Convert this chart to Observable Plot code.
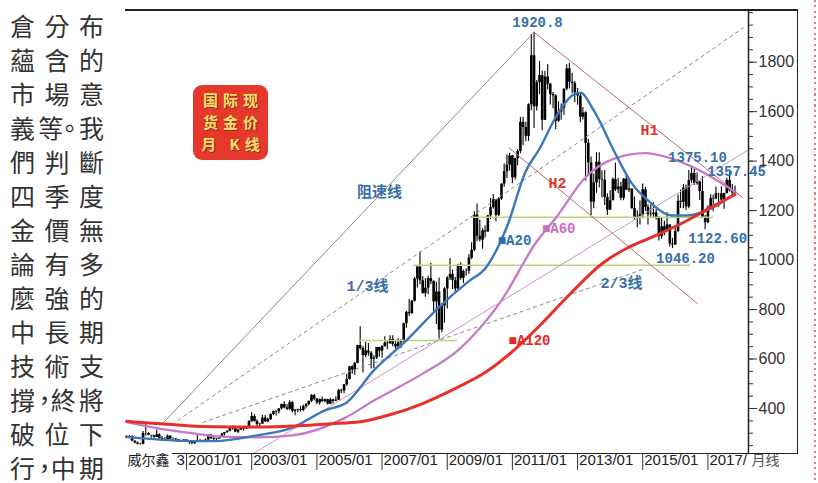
<!DOCTYPE html>
<html><head><meta charset="utf-8">
<script src="https://cdn.jsdelivr.net/npm/d3@7"></script>
<script src="https://cdn.jsdelivr.net/npm/@observablehq/plot@0.6"></script>
<style>
html,body{margin:0;padding:0;background:#fff;overflow:hidden}
#wrap{position:relative;width:818px;height:483px;overflow:hidden;background:#fff}
#chart{position:absolute;left:0;top:0}
#col{position:absolute;left:10px;top:0;width:94px;font-family:"Noto Sans CJK TC";font-size:25px;line-height:25px;color:#333}
.row{position:absolute;left:0;width:94px;display:flex;justify-content:space-between}
.row span.c{display:block;flex:none;min-width:25px;text-align:center;white-space:nowrap}
.row span.p{font-feature-settings:"halt" 1;}
.ln{position:absolute;background:#222}
#badge{position:absolute;left:193px;top:85px;width:75px;height:75px;border-radius:9px;background:#e4382c;color:#f7e36c;
 font-family:"Noto Sans CJK SC";font-weight:bold;font-size:15px;line-height:22px;letter-spacing:5px;padding-left:5px;text-align:center;box-sizing:border-box;padding-top:4px;text-shadow:1px 1px 0 #a8241c}
#dots{position:absolute;left:814px;top:0;width:2px;height:483px;background:repeating-linear-gradient(to bottom,#e87a7a 0 2px,transparent 2px 5.5px)}
</style></head>
<body>
<div id="wrap">
  <div id="col"></div>
  <div id="chart"></div>
  <div class="ln" style="left:125px;top:9px;width:673px;height:1.5px"></div>
  <div class="ln" style="left:796.5px;top:9px;width:1.5px;height:445px"></div>
  <div class="ln" style="left:172px;top:452.5px;width:626px;height:1.5px"></div>
  <div id="badge">国际现<br>货金价<br>月 K线</div>
  <div id="dots"></div>
</div>
<script>
// ---------- text column ----------
const textRows = ["倉分布","蘊含的","市場意","義等。我","們判斷","四季度","金價無","論有多","麼強的","中長期","技術支","撐，終將","破位下","行，中期"];
const col = document.getElementById("col");
textRows.forEach((r, k) => {
  const div = document.createElement("div");
  div.className = "row";
  div.style.top = (12.5 + 34 * k) + "px";
  const chars = [...r];
  const cells = chars.length === 4 ? [chars[0], chars[1] + chars[2], chars[3]] : chars;
  for (const cell of cells) {
    const s = document.createElement("span");
    s.className = "c";
    for (const ch of cell) {
      if ("，。".includes(ch)) {
        const p = document.createElement("span");
        p.className = "p"; p.textContent = ch; s.appendChild(p);
      } else s.appendChild(document.createTextNode(ch));
    }
    div.appendChild(s);
  }
  col.appendChild(div);
});

// ---------- monthly gold data (1999/03 .. 2017/11) ----------
const startYear = 1999, startMonth = 3, firstOpen = 287.3;
const closes = [
 279.5,286.6,268.3,261.0,255.6,254.8,299.0,299.1,291.4,290.3,
 283.3,293.7,278.4,274.8,272.3,288.2,276.8,277.0,273.7,264.5,269.1,272.7,
 265.6,266.7,257.7,263.2,267.5,270.6,265.8,273.0,293.1,278.8,275.5,276.5,
 282.3,296.9,302.6,308.2,326.6,318.5,304.7,312.8,323.7,316.9,319.1,347.2,
 367.5,347.5,334.9,336.8,361.4,346.0,354.8,375.6,388.0,386.3,398.4,416.3,
 402.5,396.6,423.7,388.5,393.3,395.8,391.4,407.3,415.7,428.6,452.5,438.0,
 422.5,435.5,428.0,435.7,417.3,435.0,429.0,433.3,473.3,470.8,495.7,517.0,
 568.8,556.0,582.0,654.5,642.5,613.5,632.5,623.5,599.3,603.8,646.7,632.0,
 650.5,664.2,661.8,679.0,659.1,648.7,665.5,672.0,742.8,788.7,783.5,833.8,
 923.3,971.5,916.3,865.0,886.8,925.4,913.4,831.1,870.8,716.8,814.4,883.7,
 927.3,942.0,916.5,883.3,978.8,926.4,953.7,955.1,1007.7,1040.0,1182.0,1096.2,
 1081,1118,1113,1179,1212,1244,1181,1247,1307,1357,1384,1421,
 1333,1410,1439,1557,1536,1500,1628,1826,1620,1717,1746,1565,
 1740,1711,1669,1664,1561,1598,1614,1691,1773,1719,1714,1676,
 1663,1578,1595,1472,1393,1234,1312,1395,1326,1323,1253,1202,
 1240,1326,1284,1296,1250,1327,1282,1287,1208,1172,1175,1184,
 1284,1213,1183,1184,1190,1172,1095,1135,1115,1142,1065,1061,
 1116,1238,1233,1291,1215,1321,1350,1309,1316,1277,1173,1151,
 1211,1249,1247,1269,1269,1242,1269,1322,1280,1271,1275];
const highs = [
 290,291,290,268,264,259,307,338,302,291,
 292,313,298,287,282,293,290,282,279,274,270,275,
 273,268,270,265,293,275,272,277,295,294,284,280,
 288,300,303,310,327,330,320,316,326,325,324,350,
 383,375,353,340,372,372,362,378,390,392,400,417,
 427,416,431,428,396,398,409,414,419,430,456,457,
 440,438,446,438,437,441,437,447,476,478,497,538,
 570,573,586,656,730,650,668,663,629,613,648,648,
 654,690,671,694,694,672,683,677,745,793,841,837,
 930,976,1033,934,925,935,987,916,910,928,823,888,
 933,1006,960,930,983,989,960,965,1023,1070,1195,1227,
 1162,1127,1139,1180,1249,1265,1245,1252,1308,1388,1425,1432,
 1423,1413,1447,1576,1577,1557,1632,1912,1920.8,1726,1803,1764,
 1763,1791,1714,1677,1667,1640,1631,1692,1790,1796,1755,1722,
 1694,1676,1617,1600,1488,1417,1348,1434,1434,1361,1362,1267,
 1280,1332,1392,1331,1315,1330,1345,1323,1288,1255,1199,1239,
 1308,1294,1224,1224,1232,1205,1175,1170,1157,1191,1142,1088,
 1128,1263,1283,1306,1304,1362,1375.1,1367,1352,1318,1338,1180,
 1220,1264,1262,1295,1270,1296,1270,1331,1357.45,1306,1299];
const lows = [
 278,278,266,256,252,252,253,288,289,280,
 280,283,276,273,268,270,274,270,270,263,263,268,
 263,255,255,255,262,266,264,264,270,275,271,271,
 276,283,288,300,306,312,302,299,311,309,315,318,
 343,345,320,319,336,343,342,351,371,370,378,394,
 399,392,393,383,371,383,386,387,398,410,424,431,
 416,413,425,423,414,415,418,427,432,460,460,490,
 515,538,534,581,635,543,605,611,560,561,598,607,
 603,648,637,660,650,640,645,642,666,724,772,781,
 830,887,900,862,850,860,901,786,740,680,706,745,
 802,917,881,865,880,918,905,935,943,1002,1035,1075,
 1073,1044,1089,1113,1163,1206,1155,1176,1241,1294,1330,1360,
 1309,1324,1381,1430,1462,1478,1480,1604,1532,1603,1669,1523,
 1564,1688,1627,1612,1527,1556,1565,1585,1685,1692,1672,1636,
 1626,1555,1566,1321,1338,1180,1207,1270,1292,1251,1221,1180,
 1200,1240,1277,1268,1240,1240,1281,1273,1205,1161,1131,1142,
 1167,1197,1142,1173,1170,1162,1077,1084,1098,1114,1053,1046.2,
 1061,1111,1209,1208,1200,1208,1310,1301,1302,1241,1171,1122.6,
 1147,1208,1195,1244,1214,1236,1205,1267,1275,1261,1264];

// moving averages
const ma20 = [["1999-03",285],["2000-06",272],["2001-06",268],["2001-11",268],["2003-03",291],["2004-04",323],["2005-04",392],["2005-12",424],["2006-10",554],["2007-10",675],["2008-10",810],["2009-09",915],["2010-03",965],["2010-11",1135],["2011-06",1360],["2011-11",1450],["2012-05",1577],["2012-11",1665],["2013-02",1677],["2013-07",1605],["2014-03",1430],["2014-09",1310],["2015-03",1241],["2015-12",1180],["2016-05",1180],["2017-02",1208],["2017-11",1269]];
const ma60 = [["1999-03",345],["2000-01",323],["2001-03",300],["2002-03",285],["2003-03",283],["2004-04",291],["2005-11",360],["2006-10",432],["2008-04",541],["2009-05",635],["2009-11",700],["2010-09",837],["2011-10",1075],["2012-05",1170],["2013-04",1335],["2014-02",1408],["2015-02",1432],["2015-10",1416],["2016-10",1362],["2017-11",1275]];
const ma120 = [["1999-03",348],["2000-06",336],["2001-06",327],["2002-06",325],["2003-06",325],["2004-06",330],["2005-06",338],["2006-05",346],["2007-05",378],["2008-04",420],["2009-05",486],["2010-03",545],["2011-02",640],["2011-12",745],["2012-10",860],["2013-10",985],["2014-07",1047],["2015-05",1095],["2016-04",1152],["2017-02",1212],["2017-11",1265]];

// trend lines (date, price)
const speedLine  = [["2000-04-17",343,"2011-09-01",1920.8]];
const dashLines  = [["2000-09-22",351,"2018-02-05",1940],["2001-06-28",343,"2015-02-01",966]];
const channel    = [["2003-01-21",218,"2018-03-20",1443]];
const hLines     = [["2011-09-01",1920.8,"2018-01-24",1253],["2010-11-18",1455,"2016-09-07",824]];
const levels     = [[1173,"2009-09-19","2017-03-06"],[979,"2007-12-19","2016-06-21"],[675,"2006-04-13","2009-04-26"]];

// key extremes
const extremes = [["2011-09","high","1920.8"],["2016-07","high","1375.10"],["2017-09","high","1357.45"],["2016-12","low","1122.60"],["2015-12","low","1046.20"]];

// text annotations (date, price, text)
const blueNotes = [["2006-12-04",1273,"阻速线"],["2006-07-22",893,"1/3线"],["2014-05-09",905,"2/3线"]];
const redNotes = [["2015-03-17",1524,"H1"],["2012-05-22",1310,"H2"]];
const maNotes = [["2011-01-25",1079,"■A20","#2d6fb5"],["2012-06-03",1128,"■A60","#c46fc0"],["2011-07-12",675,"■A120","#e62a2a"]];

// axis ticks
const yTicks = [400,600,800,1000,1200,1400,1600,1800];
const yMinor = d3.range(250, 2001, 50);
const xTickYears = [2001,2003,2005,2007,2009,2011,2013,2015,2017];
const xTickLabels = ["2001/01","2003/01","2005/01","2007/01","2009/01","2011/01","2013/01","2015/01","2017/"];

// ---------- build ----------
const ym = s => { const [y, m, d] = s.split("-").map(Number); return new Date(Date.UTC(y, m - 1, d || 1)); };
const candles = closes.map((c, i) => ({
  date: new Date(Date.UTC(startYear, startMonth - 1 + i, 1)),
  open: i ? closes[i - 1] : firstOpen, close: c, high: highs[i], low: lows[i]
}));
const byMonth = new Map(candles.map(d => [d.date.getTime(), d]));
const maRows = (arr) => arr.map(([d, v]) => ({date: ym(d), v}));
const linkRows = (arr) => arr.map(([a, b, c, e]) => ({x1: ym(a), y1: b, x2: ym(c), y2: e}));
const xTicks = xTickYears.map(y => new Date(Date.UTC(y, 0, 1)));

const mono = "Liberation Mono, Noto Sans CJK SC, monospace";
const blue = "#3470ab";
const exOffsets = [[3.5,-10],[6,-10],[7,0],[12.5,9],[13,10]];

const extremeMarks = extremes.map(([m, f, t], i) => {
  const d = byMonth.get(ym(m).getTime());
  return Plot.text([{date: d.date, v: d[f], t}], {x: "date", y: "v", text: "t", dx: exOffsets[i][0], dy: exOffsets[i][1],
    fontFamily: mono, fontWeight: "bold", fontSize: 14, fill: blue});
});

const chart = Plot.plot({
  width: 818, height: 483,
  marginLeft: 125, marginRight: 70, marginTop: 10, marginBottom: 30,
  x: {type: "utc", domain: [new Date(Date.UTC(1999,1,16)), new Date(Date.UTC(2018,3,1))]},
  y: {domain: [218, 2009]},
  style: {background: "transparent", fontFamily: "Liberation Sans", overflow: "visible"},
  marks: [
    Plot.ruleX(candles, {x: "date", y1: "low", y2: "high", stroke: "#000", strokeWidth: 1.1}),
    Plot.ruleX(candles, {x: "date", y1: "open", y2: "close", stroke: "#000", strokeWidth: 2.6}),
    Plot.ruleY(levels.map(([v,a,b]) => ({v, x1: ym(a), x2: ym(b)})), {y: "v", x1: "x1", x2: "x2", stroke: "#bdd27a", strokeWidth: 1.5}),
    Plot.link(linkRows(speedLine), {x1: "x1", y1: "y1", x2: "x2", y2: "y2", stroke: "#8a8a8a", strokeWidth: 1}),
    Plot.link(linkRows(dashLines), {x1: "x1", y1: "y1", x2: "x2", y2: "y2", stroke: "#8a8a8a", strokeWidth: 1, strokeDasharray: "4,3"}),
    Plot.link(linkRows(channel), {x1: "x1", y1: "y1", x2: "x2", y2: "y2", stroke: "#c894cc", strokeWidth: 1, clip: true}),
    Plot.link(linkRows(hLines), {x1: "x1", y1: "y1", x2: "x2", y2: "y2", stroke: "#b86a6a", strokeWidth: 1}),
    Plot.line(maRows(ma60), {x: "date", y: "v", stroke: "#c878c8", strokeWidth: 2.3, curve: "monotone-x"}),
    Plot.line(maRows(ma20), {x: "date", y: "v", stroke: "#3a78bb", strokeWidth: 2.4, curve: "monotone-x"}),
    Plot.line(maRows(ma120), {x: "date", y: "v", stroke: "#e8302a", strokeWidth: 3, curve: "monotone-x"}),
    Plot.frame({anchor: "right", stroke: "#222", strokeWidth: 1.5}),
    Plot.axisY({anchor: "right", ticks: yMinor, tickSize: 4, stroke: "#333", fill: "none", label: null, tickFormat: () => ""}),
    Plot.axisY({anchor: "right", ticks: yTicks, tickSize: 8, tickPadding: 2, fontSize: 16, color: "#333", label: null, tickFormat: d => String(d)}),
    Plot.axisX({ticks: xTicks, tickSize: 17, stroke: "#333", fill: "none", label: null, tickFormat: () => ""}),
    Plot.text(xTicks, {x: d => d, text: (d, i) => xTickLabels[i], frameAnchor: "bottom", dy: 11, dx: 1.5, textAnchor: "start", fontSize: 15, fill: "#222"}),
    Plot.text(["威尔鑫"], {frameAnchor: "bottom-left", dx: 2, dy: 11, textAnchor: "start", fontSize: 14, fill: "#222", fontFamily: "Noto Sans CJK SC"}),
    Plot.text(["3"], {frameAnchor: "bottom-left", dx: 51, dy: 11, textAnchor: "start", fontSize: 15, fill: "#222"}),
    Plot.text(["月线"], {frameAnchor: "bottom-right", dx: 3, dy: 11, textAnchor: "start", fontSize: 14, fill: "#555", fontFamily: "Noto Sans CJK SC"}),
    Plot.text(blueNotes.map(([d,v,t]) => ({date: ym(d), v, t})), {x: "date", y: "v", text: "t", fontFamily: mono, fontWeight: "bold", fontSize: 15, fill: "#3a6ea8"}),
    Plot.text(redNotes.map(([d,v,t]) => ({date: ym(d), v, t})), {x: "date", y: "v", text: "t", fontFamily: mono, fontWeight: "bold", fontSize: 15, fill: "#e0342c"}),
    Plot.text(maNotes.map(([d,v,t,c]) => ({date: ym(d), v, t, c})), {x: "date", y: "v", text: "t", fill: "c", fontFamily: mono, fontWeight: "bold", fontSize: 14}),
    ...extremeMarks
  ]
});
document.getElementById("chart").appendChild(chart);
</script>
</body></html>
